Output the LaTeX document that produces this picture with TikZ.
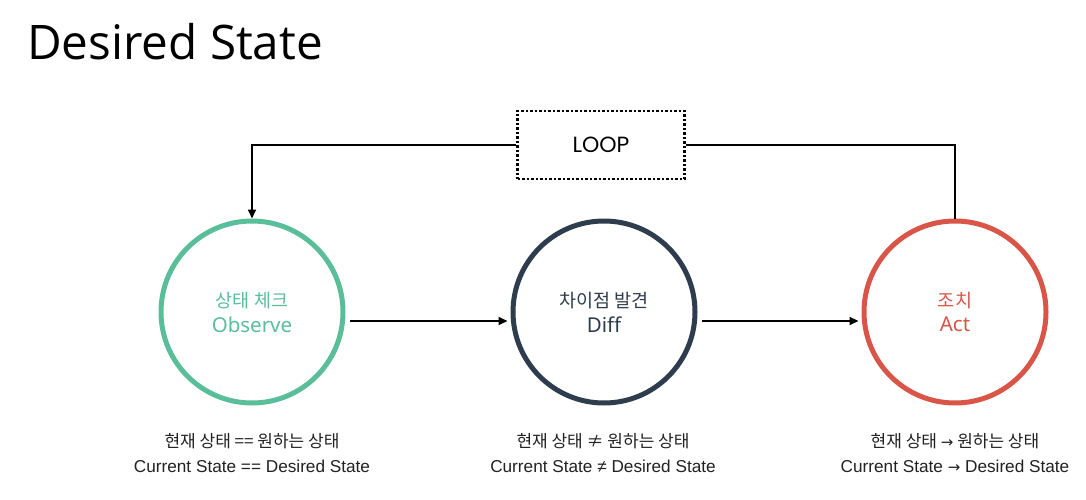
\documentclass[tikz,border=0pt]{standalone}
\usepackage{fontspec}
\usetikzlibrary{arrows.meta}
\setmainfont{Liberation Sans}
\newfontfamily\titlefont{Open Sans}
\newfontfamily\kr{Noto Sans CJK KR}
\newfontfamily\latin{Noto Sans}
\newfontfamily\loopfont{Poppins}
\newfontfamily\symfont{DejaVu Sans}
\definecolor{obsgreen}{HTML}{5ABE9B}
\definecolor{diffnavy}{HTML}{2E3D4E}
\definecolor{actred}{HTML}{D85548}
\definecolor{txtgray}{HTML}{222222}
\tikzset{
  statecircle/.style={circle, line width=5pt, minimum size=182pt, inner sep=0pt, align=center},
  conn/.style={line width=1.7pt, black},
  tip/.style={-{Triangle[length=9pt,width=8pt]}},
  kline/.style={font=\kr\fontsize{17}{20}\selectfont, text=txtgray, inner sep=0pt},
  eline/.style={font=\fontsize{17.2}{20}\selectfont, text=txtgray, inner sep=0pt},
}
\newcommand{\krin}[1]{{\kr\fontsize{18.5}{22}\selectfont #1}}
\newcommand{\enin}[1]{{\latin\fontsize{20.5}{24}\selectfont #1}}
\newcommand{\rarr}{{\symfont\fontsize{15}{18}\selectfont →}}
\begin{document}
\begin{tikzpicture}[x=1pt,y=-1pt]
\useasboundingbox (0,0) rectangle (1086,500);
\fill[white] (0,0) rectangle (1086,500);

\node[anchor=base west, inner sep=0pt, font=\titlefont\fontsize{47.6}{52}\selectfont] (title) at (27,60) {Desired State};

\node[draw, line width=2.5pt, dash pattern=on 2.5pt off 2pt, minimum width=167pt, minimum height=68pt, font=\loopfont\fontsize{22}{26}\selectfont] (loop) at (601,145) {LOOP};

\node[statecircle, draw=obsgreen, text=obsgreen] (obs) at (252,312)
  {\krin{상태 체크}\\[7pt]\enin{Observe}};
\node[statecircle, draw=diffnavy, text=diffnavy] (diff) at (604,312)
  {\krin{차이점 발견}\\[7pt]\enin{Diff}};
\node[statecircle, draw=actred, text=actred] (act) at (955,312)
  {\krin{조치}\\[7pt]\enin{Act}};

\draw[conn, tip] (loop.west) -| (obs.north);
\draw[conn] (loop.east) -| (act.north);
\draw[conn, tip, shorten <=4pt, shorten >=3pt] ([yshift=-9pt]obs.east) -- ([yshift=-9pt]diff.west);
\draw[conn, tip, shorten <=4pt, shorten >=3pt] ([yshift=-9pt]diff.east) -- ([yshift=-9pt]act.west);

\node[kline] (k1) at (252,441) {현재 상태 == 원하는 상태};
\node[eline] (e1) at (252,466) {Current State == Desired State};
\node[kline] (k2) at (603,441) {현재 상태 ≠ 원하는 상태};
\node[eline] (e2) at (603,466) {Current State ≠ Desired State};
\node[kline] (k3) at (955,441) {현재 상태 \rarr{} 원하는 상태};
\node[eline] (e3) at (955,466) {Current State \rarr{} Desired State};
\end{tikzpicture}
\end{document}
